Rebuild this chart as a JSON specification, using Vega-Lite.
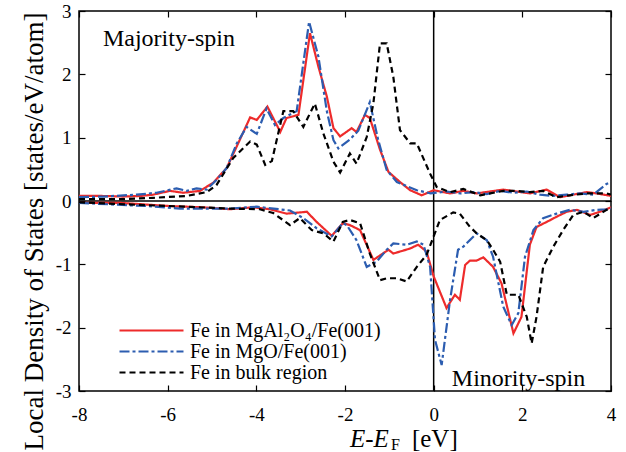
{
"$schema":"https://vega.github.io/schema/vega-lite/v6.json",
"width":532,"height":380,
"autosize":{"type":"none"},
"padding":{"left":79,"top":11,"right":15,"bottom":61},
"background":"white",
"config":{"view":{"stroke":"black","strokeWidth":1.5},"font":"Liberation Serif",
 "axis":{"labelFont":"Liberation Serif","titleFont":"Liberation Serif","labelColor":"black","titleColor":"black","tickColor":"black","tickWidth":1.2,"grid":false,"domain":false},
 "legend":{"labelFont":"Liberation Serif"},
 "text":{"font":"Liberation Serif"}},
"datasets":{"dos":[
{"s":"a","p":"u","x":-8,"y":0.08},{"s":"a","p":"u","x":-7.5,"y":0.08},{"s":"a","p":"u","x":-7,"y":0.07},{"s":"a","p":"u","x":-6.6,"y":0.08},{"s":"a","p":"u","x":-6.33,"y":0.1},{"s":"a","p":"u","x":-5.95,"y":0.16},{"s":"a","p":"u","x":-5.65,"y":0.13},{"s":"a","p":"u","x":-5.27,"y":0.16},{"s":"a","p":"u","x":-4.97,"y":0.29},{"s":"a","p":"u","x":-4.67,"y":0.52},{"s":"a","p":"u","x":-4.41,"y":0.91},{"s":"a","p":"u","x":-4.14,"y":1.32},{"s":"a","p":"u","x":-3.99,"y":1.28},{"s":"a","p":"u","x":-3.75,"y":1.49},{"s":"a","p":"u","x":-3.46,"y":1.09},{"s":"a","p":"u","x":-3.32,"y":1.31},{"s":"a","p":"u","x":-3.05,"y":1.36},{"s":"a","p":"u","x":-2.79,"y":2.65},{"s":"a","p":"u","x":-2.6,"y":2.12},{"s":"a","p":"u","x":-2.41,"y":1.65},{"s":"a","p":"u","x":-2.26,"y":1.15},{"s":"a","p":"u","x":-2.11,"y":1.02},{"s":"a","p":"u","x":-1.85,"y":1.15},{"s":"a","p":"u","x":-1.74,"y":1.09},{"s":"a","p":"u","x":-1.55,"y":1.36},{"s":"a","p":"u","x":-1.44,"y":1.31},{"s":"a","p":"u","x":-1.21,"y":0.81},{"s":"a","p":"u","x":-1.02,"y":0.46},{"s":"a","p":"u","x":-0.76,"y":0.3},{"s":"a","p":"u","x":-0.53,"y":0.17},{"s":"a","p":"u","x":-0.27,"y":0.09},{"s":"a","p":"u","x":0,"y":0.17},{"s":"a","p":"u","x":0.37,"y":0.12},{"s":"a","p":"u","x":0.67,"y":0.16},{"s":"a","p":"u","x":0.97,"y":0.12},{"s":"a","p":"u","x":1.27,"y":0.15},{"s":"a","p":"u","x":1.57,"y":0.18},{"s":"a","p":"u","x":1.87,"y":0.15},{"s":"a","p":"u","x":2.17,"y":0.12},{"s":"a","p":"u","x":2.55,"y":0.18},{"s":"a","p":"u","x":2.85,"y":0.06},{"s":"a","p":"u","x":3.07,"y":0.09},{"s":"a","p":"u","x":3.45,"y":0.14},{"s":"a","p":"u","x":3.68,"y":0.12},{"s":"a","p":"u","x":4,"y":0.08},
{"s":"b","p":"u","x":-8,"y":0.06},{"s":"b","p":"u","x":-7.45,"y":0.07},{"s":"b","p":"u","x":-6.7,"y":0.1},{"s":"b","p":"u","x":-6.25,"y":0.13},{"s":"b","p":"u","x":-5.8,"y":0.2},{"s":"b","p":"u","x":-5.57,"y":0.16},{"s":"b","p":"u","x":-5.35,"y":0.2},{"s":"b","p":"u","x":-5.12,"y":0.18},{"s":"b","p":"u","x":-4.9,"y":0.33},{"s":"b","p":"u","x":-4.67,"y":0.52},{"s":"b","p":"u","x":-4.44,"y":0.91},{"s":"b","p":"u","x":-4.22,"y":1.17},{"s":"b","p":"u","x":-3.99,"y":1.06},{"s":"b","p":"u","x":-3.77,"y":1.46},{"s":"b","p":"u","x":-3.58,"y":1.2},{"s":"b","p":"u","x":-3.39,"y":1.31},{"s":"b","p":"u","x":-3.09,"y":1.42},{"s":"b","p":"u","x":-2.81,"y":2.83},{"s":"b","p":"u","x":-2.6,"y":2.28},{"s":"b","p":"u","x":-2.41,"y":1.42},{"s":"b","p":"u","x":-2.26,"y":0.96},{"s":"b","p":"u","x":-2.15,"y":0.83},{"s":"b","p":"u","x":-1.89,"y":0.97},{"s":"b","p":"u","x":-1.7,"y":1.11},{"s":"b","p":"u","x":-1.44,"y":1.56},{"s":"b","p":"u","x":-1.25,"y":0.96},{"s":"b","p":"u","x":-1.06,"y":0.49},{"s":"b","p":"u","x":-0.83,"y":0.3},{"s":"b","p":"u","x":-0.38,"y":0.17},{"s":"b","p":"u","x":-0.07,"y":0.12},{"s":"b","p":"u","x":0.3,"y":0.15},{"s":"b","p":"u","x":0.6,"y":0.12},{"s":"b","p":"u","x":0.9,"y":0.14},{"s":"b","p":"u","x":1.2,"y":0.11},{"s":"b","p":"u","x":1.5,"y":0.16},{"s":"b","p":"u","x":1.8,"y":0.13},{"s":"b","p":"u","x":2.1,"y":0.15},{"s":"b","p":"u","x":2.4,"y":0.1},{"s":"b","p":"u","x":2.7,"y":0.08},{"s":"b","p":"u","x":3.0,"y":0.1},{"s":"b","p":"u","x":3.3,"y":0.12},{"s":"b","p":"u","x":3.6,"y":0.1},{"s":"b","p":"u","x":3.9,"y":0.27},{"s":"b","p":"u","x":4,"y":0.3},
{"s":"c","p":"u","x":-8,"y":0.03},{"s":"c","p":"u","x":-7,"y":0.03},{"s":"c","p":"u","x":-6.33,"y":0.05},{"s":"c","p":"u","x":-5.57,"y":0.08},{"s":"c","p":"u","x":-5.12,"y":0.14},{"s":"c","p":"u","x":-4.9,"y":0.25},{"s":"c","p":"u","x":-4.52,"y":0.68},{"s":"c","p":"u","x":-4.14,"y":0.94},{"s":"c","p":"u","x":-3.99,"y":0.89},{"s":"c","p":"u","x":-3.8,"y":0.57},{"s":"c","p":"u","x":-3.65,"y":0.63},{"s":"c","p":"u","x":-3.39,"y":1.42},{"s":"c","p":"u","x":-3.17,"y":1.42},{"s":"c","p":"u","x":-2.94,"y":1.17},{"s":"c","p":"u","x":-2.68,"y":1.54},{"s":"c","p":"u","x":-2.49,"y":1.07},{"s":"c","p":"u","x":-2.26,"y":0.62},{"s":"c","p":"u","x":-2.11,"y":0.45},{"s":"c","p":"u","x":-1.89,"y":0.75},{"s":"c","p":"u","x":-1.74,"y":0.59},{"s":"c","p":"u","x":-1.51,"y":1.01},{"s":"c","p":"u","x":-1.36,"y":1.54},{"s":"c","p":"u","x":-1.21,"y":2.49},{"s":"c","p":"u","x":-1.06,"y":2.49},{"s":"c","p":"u","x":-0.91,"y":1.96},{"s":"c","p":"u","x":-0.76,"y":1.12},{"s":"c","p":"u","x":-0.53,"y":0.91},{"s":"c","p":"u","x":-0.38,"y":0.91},{"s":"c","p":"u","x":-0.08,"y":0.43},{"s":"c","p":"u","x":0.07,"y":0.22},{"s":"c","p":"u","x":0.37,"y":0.14},{"s":"c","p":"u","x":0.67,"y":0.19},{"s":"c","p":"u","x":1.05,"y":0.09},{"s":"c","p":"u","x":1.57,"y":0.16},{"s":"c","p":"u","x":1.87,"y":0.16},{"s":"c","p":"u","x":2.17,"y":0.14},{"s":"c","p":"u","x":2.47,"y":0.16},{"s":"c","p":"u","x":2.77,"y":0.06},{"s":"c","p":"u","x":3.07,"y":0.09},{"s":"c","p":"u","x":3.45,"y":0.12},{"s":"c","p":"u","x":3.9,"y":0.12},{"s":"c","p":"u","x":4,"y":0.1},
{"s":"a","p":"d","x":-8,"y":-0.03},{"s":"a","p":"d","x":-7.07,"y":-0.03},{"s":"a","p":"d","x":-5.95,"y":-0.08},{"s":"a","p":"d","x":-5.2,"y":-0.1},{"s":"a","p":"d","x":-4.6,"y":-0.13},{"s":"a","p":"d","x":-4.07,"y":-0.1},{"s":"a","p":"d","x":-3.69,"y":-0.13},{"s":"a","p":"d","x":-3.32,"y":-0.2},{"s":"a","p":"d","x":-2.86,"y":-0.17},{"s":"a","p":"d","x":-2.64,"y":-0.33},{"s":"a","p":"d","x":-2.3,"y":-0.55},{"s":"a","p":"d","x":-2.05,"y":-0.35},{"s":"a","p":"d","x":-1.89,"y":-0.38},{"s":"a","p":"d","x":-1.66,"y":-0.46},{"s":"a","p":"d","x":-1.36,"y":-0.93},{"s":"a","p":"d","x":-1.02,"y":-0.77},{"s":"a","p":"d","x":-0.91,"y":-0.83},{"s":"a","p":"d","x":-0.53,"y":-0.75},{"s":"a","p":"d","x":-0.35,"y":-0.69},{"s":"a","p":"d","x":-0.16,"y":-0.8},{"s":"a","p":"d","x":0,"y":-1.19},{"s":"a","p":"d","x":0.29,"y":-1.69},{"s":"a","p":"d","x":0.48,"y":-1.48},{"s":"a","p":"d","x":0.59,"y":-1.56},{"s":"a","p":"d","x":0.71,"y":-1.01},{"s":"a","p":"d","x":0.82,"y":-0.94},{"s":"a","p":"d","x":0.97,"y":-0.94},{"s":"a","p":"d","x":1.12,"y":-0.89},{"s":"a","p":"d","x":1.34,"y":-1.04},{"s":"a","p":"d","x":1.53,"y":-1.3},{"s":"a","p":"d","x":1.8,"y":-2.09},{"s":"a","p":"d","x":1.98,"y":-1.83},{"s":"a","p":"d","x":2.17,"y":-0.69},{"s":"a","p":"d","x":2.32,"y":-0.41},{"s":"a","p":"d","x":2.55,"y":-0.33},{"s":"a","p":"d","x":2.77,"y":-0.25},{"s":"a","p":"d","x":3.0,"y":-0.17},{"s":"a","p":"d","x":3.23,"y":-0.14},{"s":"a","p":"d","x":3.53,"y":-0.22},{"s":"a","p":"d","x":3.75,"y":-0.17},{"s":"a","p":"d","x":4,"y":-0.1},
{"s":"b","p":"d","x":-8,"y":-0.03},{"s":"b","p":"d","x":-6.47,"y":-0.08},{"s":"b","p":"d","x":-5.72,"y":-0.12},{"s":"b","p":"d","x":-4.6,"y":-0.12},{"s":"b","p":"d","x":-3.99,"y":-0.09},{"s":"b","p":"d","x":-3.24,"y":-0.15},{"s":"b","p":"d","x":-2.94,"y":-0.27},{"s":"b","p":"d","x":-2.64,"y":-0.43},{"s":"b","p":"d","x":-2.3,"y":-0.56},{"s":"b","p":"d","x":-2.05,"y":-0.35},{"s":"b","p":"d","x":-1.96,"y":-0.38},{"s":"b","p":"d","x":-1.74,"y":-0.62},{"s":"b","p":"d","x":-1.51,"y":-1.04},{"s":"b","p":"d","x":-1.29,"y":-0.96},{"s":"b","p":"d","x":-1.06,"y":-0.77},{"s":"b","p":"d","x":-0.91,"y":-0.67},{"s":"b","p":"d","x":-0.61,"y":-0.69},{"s":"b","p":"d","x":-0.38,"y":-0.64},{"s":"b","p":"d","x":-0.23,"y":-0.69},{"s":"b","p":"d","x":-0.08,"y":-1.04},{"s":"b","p":"d","x":0.03,"y":-2.19},{"s":"b","p":"d","x":0.18,"y":-2.59},{"s":"b","p":"d","x":0.37,"y":-1.56},{"s":"b","p":"d","x":0.55,"y":-0.77},{"s":"b","p":"d","x":0.67,"y":-0.72},{"s":"b","p":"d","x":0.97,"y":-0.51},{"s":"b","p":"d","x":1.2,"y":-0.62},{"s":"b","p":"d","x":1.34,"y":-0.88},{"s":"b","p":"d","x":1.57,"y":-1.67},{"s":"b","p":"d","x":1.76,"y":-1.96},{"s":"b","p":"d","x":1.91,"y":-1.77},{"s":"b","p":"d","x":2.06,"y":-0.88},{"s":"b","p":"d","x":2.25,"y":-0.46},{"s":"b","p":"d","x":2.47,"y":-0.27},{"s":"b","p":"d","x":2.77,"y":-0.2},{"s":"b","p":"d","x":3.07,"y":-0.14},{"s":"b","p":"d","x":3.38,"y":-0.17},{"s":"b","p":"d","x":3.68,"y":-0.14},{"s":"b","p":"d","x":3.9,"y":-0.13},{"s":"b","p":"d","x":4,"y":-0.12},
{"s":"c","p":"d","x":-8,"y":-0.02},{"s":"c","p":"d","x":-6.7,"y":-0.06},{"s":"c","p":"d","x":-5.57,"y":-0.09},{"s":"c","p":"d","x":-4.6,"y":-0.12},{"s":"c","p":"d","x":-3.92,"y":-0.13},{"s":"c","p":"d","x":-3.62,"y":-0.19},{"s":"c","p":"d","x":-3.24,"y":-0.38},{"s":"c","p":"d","x":-3.02,"y":-0.27},{"s":"c","p":"d","x":-2.75,"y":-0.46},{"s":"c","p":"d","x":-2.49,"y":-0.51},{"s":"c","p":"d","x":-2.26,"y":-0.64},{"s":"c","p":"d","x":-2.05,"y":-0.33},{"s":"c","p":"d","x":-1.89,"y":-0.3},{"s":"c","p":"d","x":-1.66,"y":-0.35},{"s":"c","p":"d","x":-1.44,"y":-0.83},{"s":"c","p":"d","x":-1.21,"y":-1.25},{"s":"c","p":"d","x":-1.06,"y":-1.22},{"s":"c","p":"d","x":-0.83,"y":-1.22},{"s":"c","p":"d","x":-0.61,"y":-1.27},{"s":"c","p":"d","x":-0.38,"y":-1.04},{"s":"c","p":"d","x":-0.16,"y":-0.85},{"s":"c","p":"d","x":0,"y":-0.56},{"s":"c","p":"d","x":0.14,"y":-0.3},{"s":"c","p":"d","x":0.44,"y":-0.18},{"s":"c","p":"d","x":0.59,"y":-0.2},{"s":"c","p":"d","x":0.82,"y":-0.41},{"s":"c","p":"d","x":0.97,"y":-0.51},{"s":"c","p":"d","x":1.2,"y":-0.62},{"s":"c","p":"d","x":1.34,"y":-0.77},{"s":"c","p":"d","x":1.5,"y":-0.96},{"s":"c","p":"d","x":1.65,"y":-1.48},{"s":"c","p":"d","x":1.91,"y":-1.48},{"s":"c","p":"d","x":2.1,"y":-1.83},{"s":"c","p":"d","x":2.21,"y":-2.25},{"s":"c","p":"d","x":2.32,"y":-1.83},{"s":"c","p":"d","x":2.47,"y":-1.04},{"s":"c","p":"d","x":2.7,"y":-0.72},{"s":"c","p":"d","x":2.92,"y":-0.46},{"s":"c","p":"d","x":3.15,"y":-0.22},{"s":"c","p":"d","x":3.38,"y":-0.17},{"s":"c","p":"d","x":3.6,"y":-0.27},{"s":"c","p":"d","x":3.9,"y":-0.14},{"s":"c","p":"d","x":4,"y":-0.12}
]},
"layer":[
{"data":{"values":[{"v":0}]},"mark":{"type":"rule","color":"black","strokeWidth":1.5},"encoding":{"y":{"field":"v","type":"quantitative","axis":null}}},
{"data":{"values":[{"v":0}]},"mark":{"type":"rule","color":"black","strokeWidth":1.5},"encoding":{"x":{"field":"v","type":"quantitative","axis":null}}},
{"data":{"name":"dos"},"mark":{"type":"line","strokeWidth":2.2,"clip":true},
 "encoding":{
  "x":{"field":"x","type":"quantitative","scale":{"domain":[-8,4],"nice":false,"zero":false},
   "axis":{"orient":"bottom","values":[-8,-6,-4,-2,0,2,4],"tickSize":-6,"labelFont":"Liberation Serif","labelFontSize":19,"labelPadding":20,"title":null,"labelFlush":false,"labelOverlap":false,"labelExpr":"replace(datum.label,'−','-')"}},
  "y":{"field":"y","type":"quantitative","scale":{"domain":[-3,3],"nice":false,"zero":false},
   "axis":{"orient":"left","values":[-3,-2,-1,0,1,2,3],"tickSize":-6,"labelFont":"Liberation Serif","labelFontSize":19,"labelPadding":14,"labelFlush":false,"labelOverlap":false,"labelExpr":"replace(datum.label,'−','-')","title":"Local Density of States  [states/eV/atom]","titleFont":"Liberation Serif","titleFontSize":27,"titleFontWeight":"normal","titlePadding":7,"titleY":220}},
  "color":{"field":"s","type":"nominal","scale":{"domain":["a","b","c"],"range":["#ee2b2b","#2c5db0","#000000"]},
   "legend":{"orient":"none","legendX":39,"legendY":310,"title":null,"padding":0,"labelFont":"Liberation Serif","labelFontSize":20,"labelColor":"black","symbolType":"stroke","symbolSize":4096,"symbolStrokeWidth":2.2,"clipHeight":19,"labelOffset":5,"rowPadding":0,"labelLimit":400,
   "labelExpr":"datum.value == 'a' ? 'Fe in MgAl₂O₄/Fe(001)' : datum.value == 'b' ? 'Fe in MgO/Fe(001)' : 'Fe in bulk region'"}},
  "strokeDash":{"field":"s","type":"nominal","scale":{"domain":["a","b","c"],"range":[[1,0],[10,3,3,3],[6,4]]},
   "legend":{"orient":"none","legendX":39,"legendY":310,"title":null,"padding":0,"labelFont":"Liberation Serif","labelFontSize":20,"labelColor":"black","symbolType":"stroke","symbolSize":4096,"symbolStrokeWidth":2.2,"clipHeight":19,"labelOffset":5,"rowPadding":0,"labelLimit":400,
   "labelExpr":"datum.value == 'a' ? 'Fe in MgAl₂O₄/Fe(001)' : datum.value == 'b' ? 'Fe in MgO/Fe(001)' : 'Fe in bulk region'"}},
  "detail":{"field":"p"}
 }},
{"data":{"values":[{}]},"mark":{"type":"text","font":"Liberation Serif","fontSize":24,"align":"left","baseline":"alphabetic","color":"black"},
 "encoding":{"x":{"datum":-7.46,"type":"quantitative","axis":null},"y":{"datum":2.45,"type":"quantitative","axis":null},"text":{"value":"Majority-spin"}}},
{"data":{"values":[{}]},"mark":{"type":"text","font":"Liberation Serif","fontSize":24,"align":"left","baseline":"alphabetic","color":"black"},
 "encoding":{"x":{"datum":0.41,"type":"quantitative","axis":null},"y":{"datum":-2.92,"type":"quantitative","axis":null},"text":{"value":"Minority-spin"}}},
{"data":{"values":[{}]},"mark":{"type":"text","font":"Liberation Serif","fontSize":25,"fontStyle":"italic","align":"left","baseline":"alphabetic","color":"black"},
 "encoding":{"x":{"datum":-1.89,"type":"quantitative","axis":null},"y":{"datum":-3.88,"type":"quantitative","axis":null},"text":{"value":"E-E"}}},
{"data":{"values":[{}]},"mark":{"type":"text","font":"Liberation Serif","fontSize":16,"align":"left","baseline":"alphabetic","color":"black"},
 "encoding":{"x":{"datum":-0.96,"type":"quantitative","axis":null},"y":{"datum":-3.93,"type":"quantitative","axis":null},"text":{"value":"F"}}},
{"data":{"values":[{}]},"mark":{"type":"text","font":"Liberation Serif","fontSize":25,"align":"left","baseline":"alphabetic","color":"black"},
 "encoding":{"x":{"datum":-0.49,"type":"quantitative","axis":null},"y":{"datum":-3.88,"type":"quantitative","axis":null},"text":{"value":"[eV]"}}},
{"data":{"values":[{"v":0}]},"mark":{"type":"point","opacity":0},
 "encoding":{"x":{"field":"v","type":"quantitative","axis":{"orient":"top","values":[-8,-6,-4,-2,0,2,4],"tickSize":-6,"labels":false,"title":null}},
  "y":{"field":"v","type":"quantitative","axis":{"orient":"right","values":[-3,-2,-1,0,1,2,3],"tickSize":-6,"labels":false,"title":null}}}}
],
"resolve":{"axis":{"x":"independent","y":"independent"}}
}
